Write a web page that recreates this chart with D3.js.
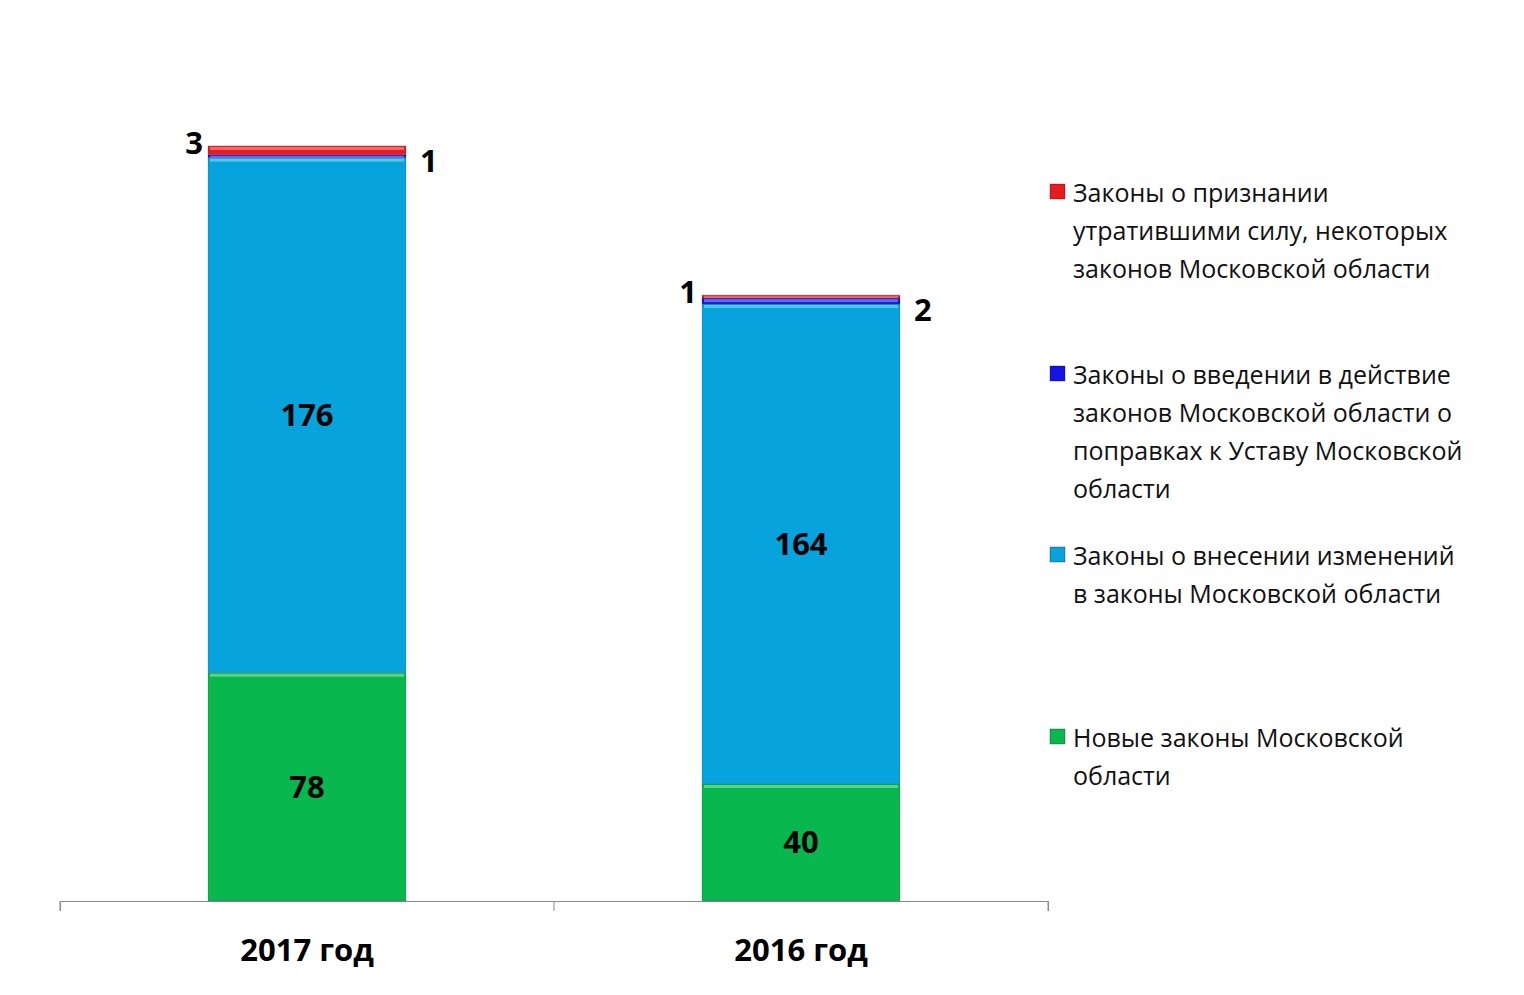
<!DOCTYPE html>
<html><head><meta charset="utf-8">
<script src="https://cdn.jsdelivr.net/npm/d3@7"></script>
<style>body{margin:0;background:#fff}</style>
</head><body>
<div id="chart"></div>
<script>
const categories = ["2017 год", "2016 год"];
const seriesNames = [
  "Новые законы Московской области",
  "Законы о внесении изменений в законы Московской области",
  "Законы о введении в действие законов Московской области о поправках к Уставу Московской области",
  "Законы о признании утратившими силу, некоторых законов Московской области"
];
const newLaws = [78, 40];
const amendLaws = [176, 164];
const enactLaws = [1, 2];
const repealLaws = [3, 1];
const colors = ["#08b84f", "#06a3dc", "#1414e6", "#e81c1c"];
const legendLines = [
  ["Законы о признании", "утратившими силу, некоторых", "законов Московской области"],
  ["Законы о введении в действие", "законов Московской области о", "поправках к Уставу Московской", "области"],
  ["Законы о внесении изменений", "в законы Московской области"],
  ["Новые законы Московской", "области"]
];

const width = 1524, height = 995;
const margin = {left: 60, right: 476, top: 23, bottom: 94};
const svg = d3.select("#chart").append("svg").attr("width", width).attr("height", height);

const x = d3.scaleBand().domain(categories).range([margin.left, width - margin.right]).paddingInner(0).paddingOuter(0);
const y = d3.scaleLinear().domain([0, 300]).range([height - margin.bottom, margin.top]);
const barW = 198;

const rows = categories.map((c, i) => ({cat: c, v: [newLaws[i], amendLaws[i], enactLaws[i], repealLaws[i]]}));
const stacked = d3.stack().keys([0, 1, 2, 3]).value((d, k) => d.v[k])(rows);

svg.append("g").selectAll("g").data(stacked).join("g")
  .attr("fill", (d, i) => colors[i])
  .selectAll("rect").data(d => d).join("rect")
  .attr("x", d => x(d.data.cat) + (x.bandwidth() - barW) / 2)
  .attr("y", d => y(d[1]))
  .attr("width", barW)
  .attr("height", d => y(d[0]) - y(d[1]))
  .attr("stroke", "rgba(0,0,0,0.15)").attr("stroke-width", 1);

// light top highlight on each segment
svg.append("g").selectAll("g").data(stacked).join("g")
  .selectAll("rect").data(d => d).join("rect")
  .attr("x", d => x(d.data.cat) + (x.bandwidth() - barW) / 2 + 2)
  .attr("y", d => y(d[1]) + 1)
  .attr("width", barW - 4)
  .attr("height", d => Math.min(3, y(d[0]) - y(d[1]) - 1))
  .attr("fill", "rgba(255,255,255,0.35)");

// axis
const axis = svg.append("g").attr("transform", `translate(0,${y(0)})`)
  .call(d3.axisBottom(x).tickSize(10).tickSizeOuter(10).tickValues([]));
axis.select(".domain").attr("stroke", "#888");
const ticks = [margin.left, margin.left + x.bandwidth(), width - margin.right];
svg.append("g").selectAll("line").data(ticks).join("line")
  .attr("x1", d => d).attr("x2", d => d).attr("y1", y(0)).attr("y2", y(0) + 10).attr("stroke", "#888");
svg.append("g").selectAll("text").data(categories).join("text")
  .attr("x", d => x(d) + x.bandwidth() / 2).attr("y", y(0) + 60)
  .attr("text-anchor", "middle").attr("font-family", "'Open Sans', sans-serif")
  .attr("font-weight", "bold").attr("font-size", 31).text(d => d);

const lblFont = "'Open Sans', sans-serif";
// big labels
rows.forEach(r => {
  const cx = x(r.cat) + x.bandwidth() / 2;
  let acc = 0;
  [0, 1].forEach(k => {
    const mid = acc + r.v[k] / 2; acc += r.v[k];
    svg.append("text").attr("x", cx).attr("y", y(mid) + 11)
      .attr("text-anchor", "middle").attr("font-family", lblFont)
      .attr("font-weight", "bold").attr("font-size", 31).text(r.v[k]);
  });
  const total = r.v[0] + r.v[1] + r.v[2] + r.v[3];
  const left = x(r.cat) + (x.bandwidth() - barW) / 2;
  svg.append("text").attr("x", left - 5).attr("y", y(total) + 8)
    .attr("text-anchor", "end").attr("font-family", lblFont)
    .attr("font-weight", "bold").attr("font-size", 31).text(r.v[3]);
  svg.append("text").attr("x", left + barW + 14).attr("y", y(total) + 26)
    .attr("text-anchor", "start").attr("font-family", lblFont)
    .attr("font-weight", "bold").attr("font-size", 31).text(r.v[2]);
});

// legend
const legendTop = [193, 375, 556, 738];
const legColors = [colors[3], colors[2], colors[1], colors[0]];
legendLines.forEach((lines, i) => {
  svg.append("rect").attr("x", 1050).attr("y", legendTop[i] - 9).attr("width", 15).attr("height", 15)
    .attr("fill", legColors[i]).attr("stroke", "rgba(0,0,0,0.3)");
  lines.forEach((t, j) => {
    svg.append("text").attr("x", 1073).attr("y", legendTop[i] + 9 + j * 38)
      .attr("font-family", lblFont).attr("font-size", 25).attr("fill", "#111").text(t);
  });
});
</script>
</body></html>
